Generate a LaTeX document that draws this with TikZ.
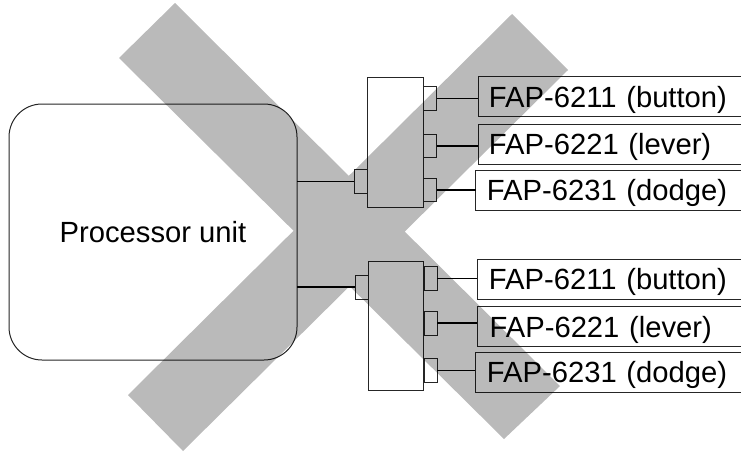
\documentclass[tikz,border=0pt]{standalone}
\usepackage{fontspec}
\setmainfont{Liberation Sans}
\begin{document}
\begin{tikzpicture}[x=1pt,y=-1pt,
  every node/.style={inner sep=0pt, outer sep=0pt},
  txt/.style={font=\fontsize{29.2}{34}\selectfont, text height=20.9pt, text depth=0pt},
  procbox/.style={draw=black!85, line width=1pt, rounded corners=33pt, fill=white,
     minimum width=288pt, minimum height=256pt, txt},
  hubbox/.style={draw=black!85, line width=1pt, fill=white, minimum width=55.6pt, anchor=north west},
  portbox/.style={draw=black!85, line width=1pt, fill=white, minimum width=13.4pt, minimum height=24pt, anchor=north west},
  fapbox/.style={draw=black!85, line width=1pt, fill=white, minimum height=40pt, txt,
     text width=300pt, align=left, inner xsep=10.6pt, anchor=north west},
  wire/.style={line width=1.5pt, draw=black},
  cross/.style={fill=black, fill opacity=0.27}
]
\useasboundingbox (0,0) rectangle (741,453);
\clip (0,0) rectangle (741,453);
\fill[white] (0,0) rectangle (741,453);

% processor
\node[procbox] (proc) at (153,232) {Processor unit};

% hub 1
\node[hubbox, minimum height=129.6pt] (hubA) at (367.7,77.7) {};
\node[portbox] (inA) at (354.3,169.3) {};
\node[portbox, minimum height=23.3pt] (pA1) at (423.3,86.7) {};
\node[portbox, minimum height=23.7pt] (pA2) at (423.3,134) {};
\node[portbox, minimum height=23.7pt] (pA3) at (423.3,178) {};

% hub 2
\node[hubbox, minimum height=129.7pt] (hubB) at (368.3,261) {};
\node[portbox] (inB) at (355,275) {};
\node[portbox] (pB1) at (424,266.7) {};
\node[portbox] (pB2) at (424,311) {};
\node[portbox] (pB3) at (424,358.3) {};

% FAP boxes group 1
\node[fapbox] (fA1) at (478.3,76.7) {FAP-6211 (button)};
\node[fapbox, minimum height=39.7pt] (fA2) at (478.3,124.3) {FAP-6221 (lever)};
\node[fapbox, minimum height=39.3pt, inner xsep=11.2pt] (fA3) at (475.7,170.7) {FAP-6231 (dodge)};

% FAP boxes group 2
\node[fapbox, minimum height=40.3pt, inner xsep=11.6pt] (fB1) at (477.3,259) {FAP-6211 (button)};
\node[fapbox, inner xsep=12.3pt] (fB2) at (477.3,306.7) {FAP-6221 (lever)};
\node[fapbox, inner xsep=11.9pt] (fB3) at (475,352.3) {FAP-6231 (dodge)};

% wires
\draw[wire] (inA.west) -- (inA.west -| proc.east);
\draw[wire] (inB.west) -- (inB.west -| proc.east);
\draw[wire] (pA1.east) -- (pA1.east -| fA1.west);
\draw[wire] (pA2.east) -- (pA2.east -| fA2.west);
\draw[wire] (pA3.east) -- (pA3.east -| fA3.west);
\draw[wire] (pB1.east) -- (pB1.east -| fB1.west);
\draw[wire] (pB2.east) -- (pB2.east -| fB2.west);
\draw[wire] (pB3.east) -- (pB3.east -| fB3.west);

% crossing-out X
\fill[cross] (175,3) -- (560,386) -- (504,439) -- (119,58) -- cycle
             (512,14) -- (568,70) -- (183,451) -- (128,395) -- cycle;
\end{tikzpicture}
\end{document}
